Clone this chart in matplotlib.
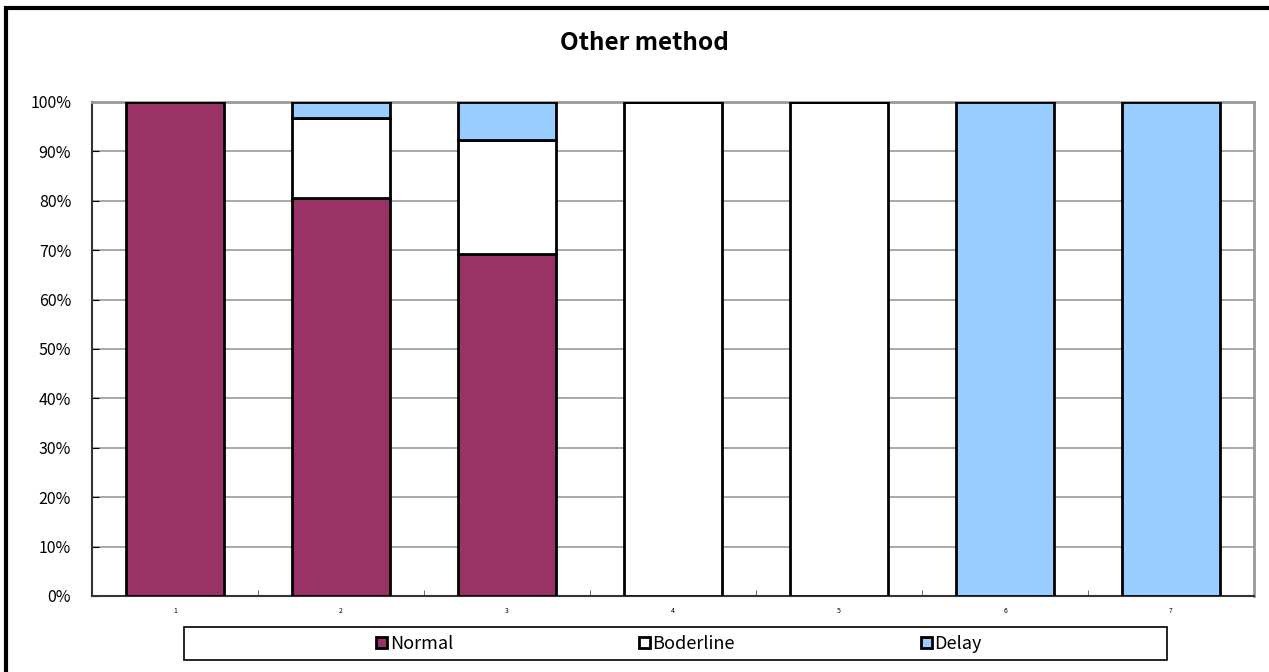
import numpy as np
import matplotlib.pyplot as plt
from matplotlib.patches import Rectangle, Patch

plt.rcParams['font.family'] = ['Noto Sans CJK JP', 'DejaVu Sans']

categories = ['1', '2', '3', '4', '5', '6', '7']
normal = [100.0, 80.6, 69.2, 0.0, 0.0, 0.0, 0.0]
borderline = [0.0, 16.1, 23.1, 100.0, 100.0, 0.0, 0.0]
delay = [0.0, 3.2, 7.7, 0.0, 0.0, 100.0, 100.0]
series_names = ['Normal', 'Boderline', 'Delay']
colors = ['#993366', '#FFFFFF', '#99CCFF']

W, H = 1269, 672
fig = plt.figure(figsize=(W / 100, H / 100), dpi=100)
ax = fig.add_axes([92 / W, 1 - 596 / H, (1254 - 92) / W, (596 - 102) / H])

x = np.arange(1, len(categories) + 1)
bw = 0.59
bottom = np.zeros(len(categories))
for vals, c in zip([normal, borderline, delay], colors):
    v = np.array(vals)
    ax.bar(x, v, bw, bottom=bottom, color=c, edgecolor='black', linewidth=2, zorder=3)
    bottom += v

ax.set_xlim(0.5, 7.5)
ax.set_ylim(0, 100)
ax.set_yticks(np.arange(0, 101, 10))
ax.set_yticklabels(['{}%'.format(i) for i in range(0, 101, 10)], fontsize=11.5)
ax.set_xticks(x)
ax.set_xticklabels(categories, fontsize=5)
ax.set_xticks(np.arange(1.5, 7.5, 1), minor=True)
ax.tick_params(axis='x', which='major', length=0, pad=8)
ax.tick_params(axis='x', which='minor', direction='in', length=4, color='#555555')
ax.tick_params(axis='y', direction='in', length=5, pad=15)
ax.grid(axis='y', color='#999999', linewidth=1.2, zorder=0)

for s in ['top', 'right']:
    ax.spines[s].set_color('#999999')
    ax.spines[s].set_linewidth(2)
for s in ['left', 'bottom']:
    ax.spines[s].set_color('#333333')
    ax.spines[s].set_linewidth(1.5)

fig.text(644 / W, 1 - 43 / H, 'Other method', ha='center', va='center',
         fontsize=17.5, fontweight='bold')

# legend box
fig.patches.append(Rectangle((184 / W, 1 - 660 / H), (1167 - 184) / W, 33 / H,
                             transform=fig.transFigure, facecolor='white',
                             edgecolor='black', linewidth=1.2))
handles = [Patch(facecolor=c, edgecolor='black', linewidth=2) for c in colors]
fig.legend(handles, series_names, loc='center', bbox_to_anchor=(679 / W, 1 - 644 / H),
           ncol=3, frameon=False, fontsize=13, handlelength=0.6, handleheight=0.6,
           handletextpad=0.15, columnspacing=10.3)

# outer chart frame
fig.patches.append(Rectangle((6 / W, -0.1), 1.2, 1 - 8 / H + 0.1,
                             transform=fig.transFigure, facecolor='none',
                             edgecolor='black', linewidth=3))

fig.savefig('out.png', dpi=100)
